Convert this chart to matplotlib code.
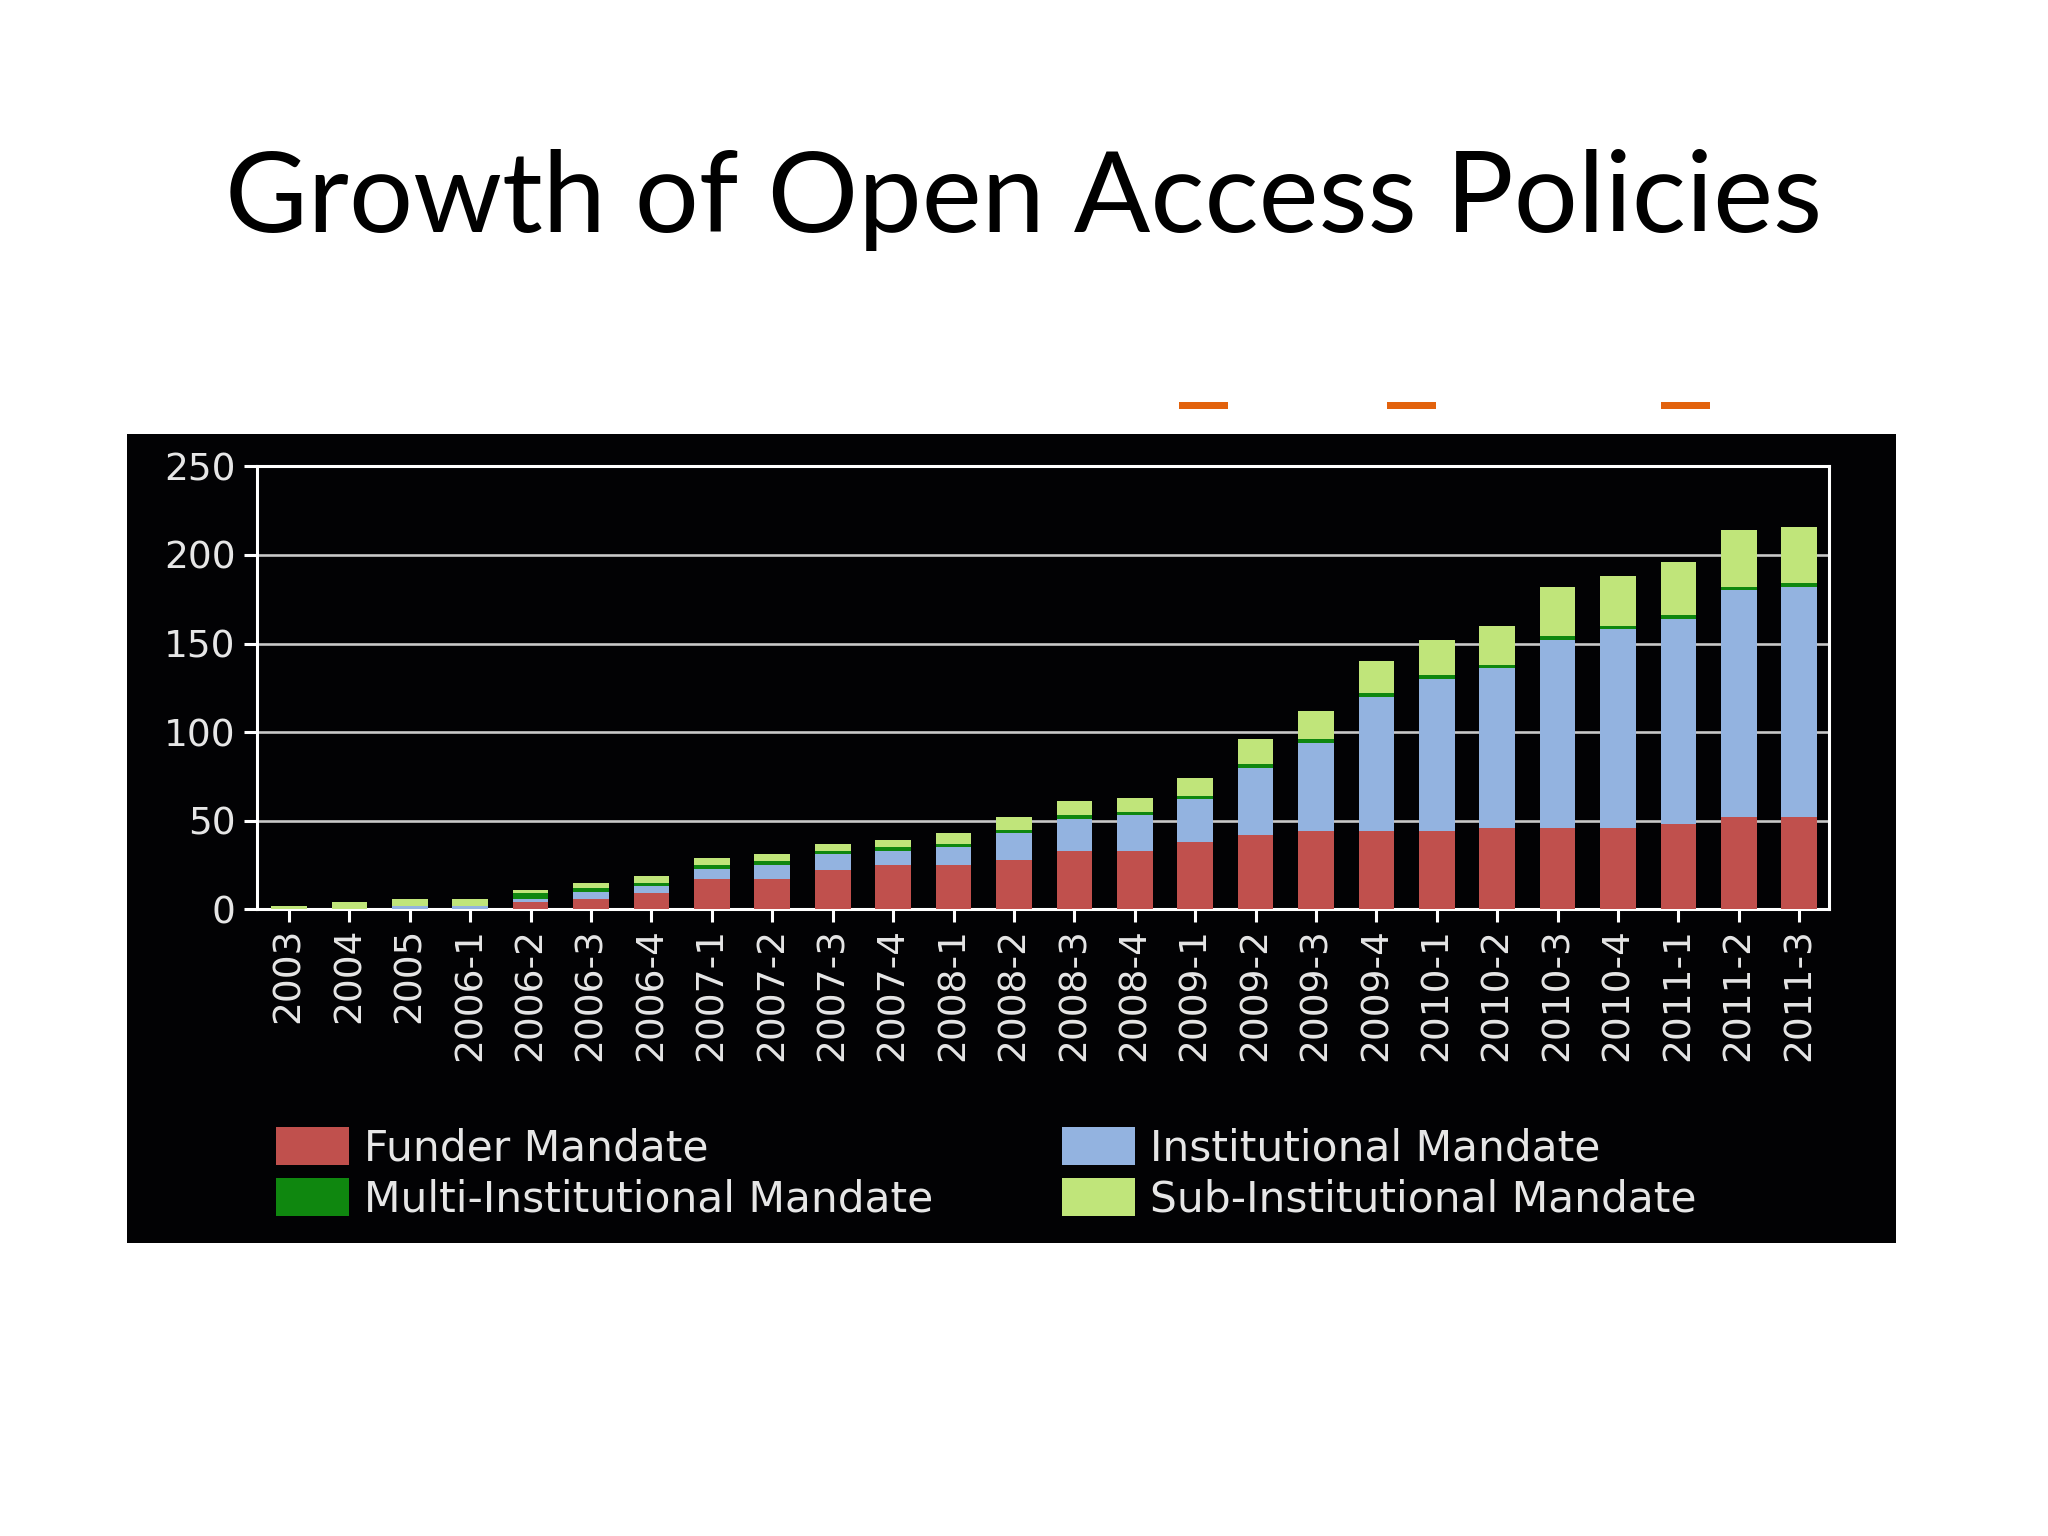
import matplotlib
matplotlib.use("Agg")
import numpy as np
import matplotlib.pyplot as plt
from matplotlib.patches import Rectangle

# quarters / years on the x axis
periods = ["2003", "2004", "2005", "2006-1", "2006-2", "2006-3", "2006-4",
           "2007-1", "2007-2", "2007-3", "2007-4", "2008-1", "2008-2", "2008-3",
           "2008-4", "2009-1", "2009-2", "2009-3", "2009-4", "2010-1", "2010-2",
           "2010-3", "2010-4", "2011-1", "2011-2", "2011-3"]

# number of policies per type (stacked, bottom to top)
funder = [0, 0, 0, 0, 4, 6, 9, 17, 17, 22, 25, 25, 28, 33, 33, 38, 42, 44,
          44, 44, 46, 46, 46, 48, 52, 52]
institutional = [0, 0, 2, 2, 2, 4, 4, 6, 8, 9, 8, 10, 15, 18, 20, 24, 38, 50,
                 76, 86, 90, 106, 112, 116, 128, 130]
multi_inst = [0, 0, 0, 0, 3, 2, 2, 2, 2, 2, 2, 2, 2, 2, 2, 2, 2, 2, 2, 2, 2,
              2, 2, 2, 2, 2]
sub_inst = [2, 4, 4, 4, 2, 3, 4, 4, 4, 4, 4, 6, 7, 8, 8, 10, 14, 16, 18, 20,
            22, 28, 28, 30, 32, 32]

RED = "#c0504d"
BLUE = "#93b3e0"
GREEN = "#0f870f"
LIME = "#c0e57a"
TXT = "#e6e6e6"

fig = plt.figure(figsize=(20.48, 15.36), dpi=100)
fig.patch.set_facecolor("white")

# slide title
fig.text(0.5, 0.849, "Growth of Open Access Policies", ha="center",
         va="baseline", fontsize=81.5, family="Lato", color="black")

# black panel behind the chart
fig.patches.append(Rectangle((0.062, 0.191), 0.864, 0.5265,
                             transform=fig.transFigure, facecolor="#020204",
                             edgecolor="none", zorder=-2))

# leftover orange marks above the panel
for x0 in [1179, 1387, 1661]:
    fig.patches.append(Rectangle((x0 / 2048, 1 - 409 / 1536), 49 / 2048, 7 / 1536,
                                 transform=fig.transFigure, facecolor="#e2620d",
                                 edgecolor="none", zorder=-1))

ax = fig.add_axes([0.1255, 0.408, 0.7675, 0.2884])
ax.set_facecolor("#020204")

x = np.arange(len(periods))
w = 0.59
b1 = np.array(funder)
b2 = b1 + np.array(institutional)
b3 = b2 + np.array(multi_inst)
ax.bar(x, funder, w, color=RED, label="Funder Mandate", zorder=3)
ax.bar(x, institutional, w, bottom=b1, color=BLUE, label="Institutional Mandate", zorder=3)
ax.bar(x, multi_inst, w, bottom=b2, color=GREEN, label="Multi-Institutional Mandate", zorder=3)
ax.bar(x, sub_inst, w, bottom=b3, color=LIME, label="Sub-Institutional Mandate", zorder=3)

ax.set_xlim(-0.53, len(periods) - 0.51)
ax.set_ylim(0, 250)
ax.set_yticks([0, 50, 100, 150, 200, 250])
ax.set_xticks(x)
ax.set_xticklabels(periods, rotation=90)
ax.yaxis.grid(True, color="#c8c8c8", linewidth=1.9, zorder=1)
ax.set_axisbelow(True)

for s in ax.spines.values():
    s.set_color("white")
    s.set_linewidth(2.2)

ax.tick_params(axis="both", colors="white", labelcolor=TXT, labelsize=27,
               length=9.5, width=2.2, direction="out")
ax.tick_params(axis="y", pad=6)
ax.tick_params(axis="x", pad=4)

handles, labels = ax.get_legend_handles_labels()
order = [0, 2, 1, 3]
leg = fig.legend([handles[i] for i in order], [labels[i] for i in order],
                 loc="upper left", bbox_to_anchor=(0.1348, 0.2663), ncol=2,
                 frameon=False, fontsize=30.5, handlelength=1.72, handleheight=1.0,
                 handletextpad=0.36, columnspacing=3.03, labelspacing=0.2,
                 borderpad=0, borderaxespad=0)
for t in leg.get_texts():
    t.set_color(TXT)

fig.savefig("out.png", dpi=100, facecolor="white")
